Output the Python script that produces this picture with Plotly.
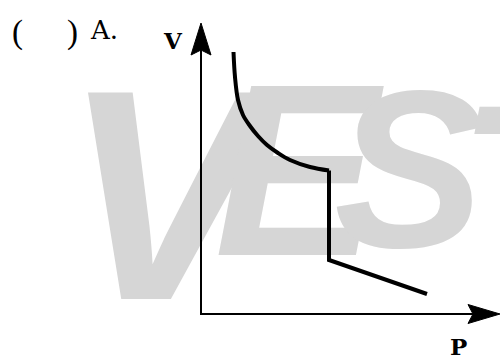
import plotly.graph_objects as go

# ---- data (arbitrary P, V units) ----
curve_p = [3.25, 3.4, 3.7, 4.2, 4.9, 5.7, 6.6, 7.7, 8.9, 10.9, 12.8]
curve_v = [26.2, 23.7, 21.4, 19.9, 18.8, 17.8, 16.9, 16.1, 15.4, 14.7, 14.35]
drop_p = [12.8, 12.8, 22.6]
drop_v = [14.35, 5.4, 2.0]

axis_labels = ["P", "V"]
watermark_letters = ["V", "E", "S"]
watermark_tail = "T"

# ---- layout constants ----
W, H = 500, 356
ORIG_X, ORIG_Y = 201, 314      # pixel position of the origin
SCALE = 10.0                   # pixels per unit
X_RANGE = [(0 - ORIG_X) / SCALE, (W - ORIG_X) / SCALE]
Y_RANGE = [(ORIG_Y - H) / SCALE, (ORIG_Y - 0) / SCALE]
X_TIP = 29.9
Y_TIP = 29.1
WM_COLOR = "#d6d6d6"


def dx(px):
    return (px - ORIG_X) / SCALE


def dy(py):
    return (ORIG_Y - py) / SCALE


fig = go.Figure()

# watermark (behind everything)
wm_size = [300, 245, 225]
wm_px = [163, 296, 409]
wm_py = [224, 194, 191]
fig.add_trace(go.Scatter(
    x=[dx(v) for v in wm_px], y=[dy(v) for v in wm_py],
    mode="text", text=watermark_letters,
    textposition="middle center",
    textfont=dict(family="Liberation Sans", size=wm_size,
                  color=WM_COLOR, weight="bold", style="italic"),
    cliponaxis=False, hoverinfo="skip", showlegend=False,
))
fig.add_annotation(x=540 / W, y=1 - 190 / H, xref="paper", yref="paper",
                   text=watermark_tail, showarrow=False,
                   font=dict(family="Liberation Sans", size=245, color=WM_COLOR,
                             weight="bold", style="italic"),
                   xanchor="center", yanchor="middle")

fig.add_trace(go.Scatter(
    x=curve_p, y=curve_v, mode="lines",
    line=dict(color="black", width=4, shape="spline"),
    hoverinfo="skip", showlegend=False,
))
fig.add_trace(go.Scatter(
    x=drop_p, y=drop_v, mode="lines",
    line=dict(color="black", width=4),
    hoverinfo="skip", showlegend=False,
))

# axes lines
fig.add_shape(type="line", x0=-0.1, y0=0, x1=X_TIP - 2, y1=0,
              xref="x", yref="y", line=dict(color="black", width=2))
fig.add_shape(type="line", x0=0, y0=-0.1, x1=0, y1=Y_TIP - 2,
              xref="x", yref="y", line=dict(color="black", width=2))
# arrowheads
fig.add_shape(type="path", xref="x", yref="y", xsizemode="pixel", ysizemode="pixel",
              xanchor=X_TIP, yanchor=0,
              path="M0,0 L-32,9.5 L-27,0 L-32,-9.5 Z",
              fillcolor="black", line=dict(color="black", width=1))
fig.add_shape(type="path", xref="x", yref="y", xsizemode="pixel", ysizemode="pixel",
              xanchor=0, yanchor=Y_TIP,
              path="M0,0 L-10,-32 L0,-27 L10,-32 Z",
              fillcolor="black", line=dict(color="black", width=1))

# labels
lab_font = dict(family="DejaVu Serif", size=23, color="black", weight="bold")
fig.add_annotation(x=173 / W, y=1 - 40.5 / H, xref="paper", yref="paper",
                   text=axis_labels[1], showarrow=False, font=lab_font,
                   xanchor="center", yanchor="middle")
fig.add_annotation(x=458.5 / W, y=1 - 346.5 / H, xref="paper", yref="paper",
                   text=axis_labels[0], showarrow=False, font=lab_font,
                   xanchor="center", yanchor="middle")

# question header "(   ) A."
par_font = dict(family="Liberation Serif", size=33, color="black")
fig.add_annotation(x=17.5 / W, y=1 - 32 / H, xref="paper", yref="paper",
                   text="(", showarrow=False, font=par_font,
                   xanchor="center", yanchor="middle")
fig.add_annotation(x=72.5 / W, y=1 - 32 / H, xref="paper", yref="paper",
                   text=")", showarrow=False, font=par_font,
                   xanchor="center", yanchor="middle")
fig.add_annotation(x=104 / W, y=1 - 30 / H, xref="paper", yref="paper",
                   text="A.", showarrow=False,
                   font=dict(family="DejaVu Serif", size=26, color="black"),
                   xanchor="center", yanchor="middle")

fig.update_xaxes(range=X_RANGE, visible=False, fixedrange=True)
fig.update_yaxes(range=Y_RANGE, visible=False, fixedrange=True)
fig.update_layout(
    width=W, height=H,
    margin=dict(l=0, r=0, t=0, b=0),
    paper_bgcolor="white", plot_bgcolor="white",
    showlegend=False,
)

fig.write_html("out.html", config={"displayModeBar": False, "staticPlot": True},
               post_script="document.body.style.margin='0';document.body.style.padding='0';")
